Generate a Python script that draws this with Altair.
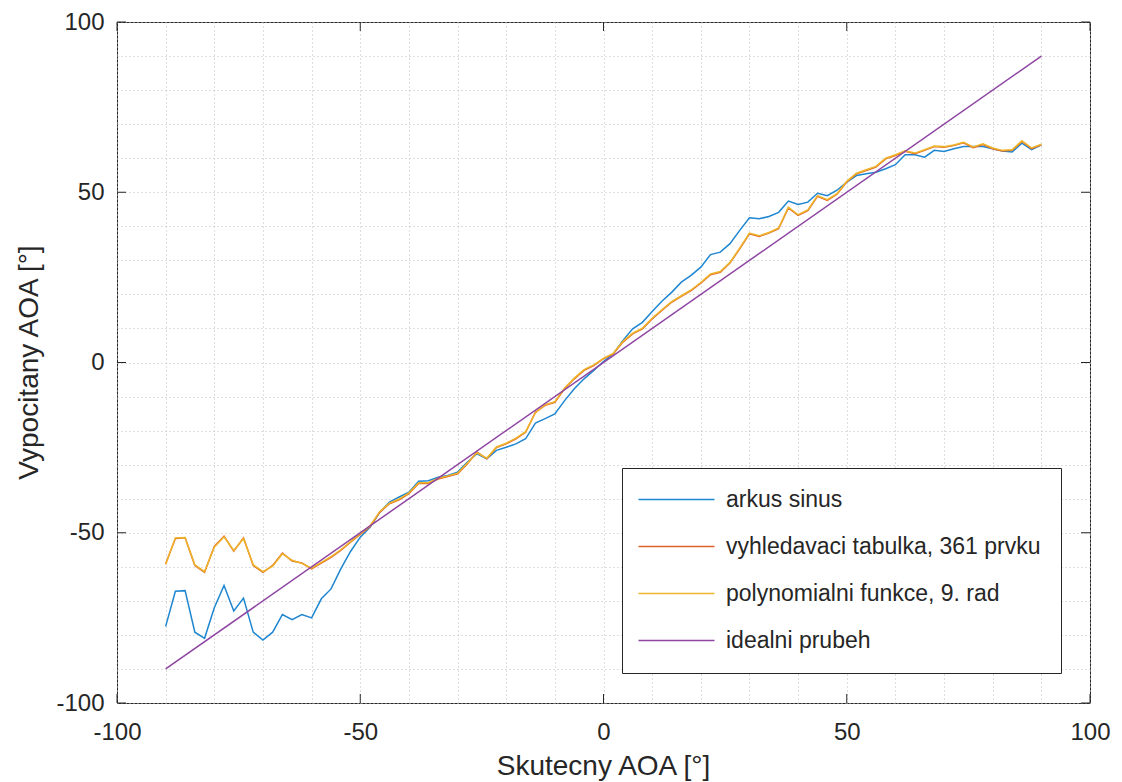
import altair as alt
import pandas as pd

angles = [-90, -88, -86, -84, -82, -80, -78, -76, -74, -72, -70, -68, -66, -64, -62, -60,
          -58, -56, -54, -52, -50, -48, -46, -44, -42, -40, -38, -36, -34, -32, -30, -28,
          -26, -24, -22, -20, -18, -16, -14, -12, -10, -8, -6, -4, -2, 0, 2, 4, 6, 8, 10,
          12, 14, 16, 18, 20, 22, 24, 26, 28, 30, 32, 34, 36, 38, 40, 42, 44, 46, 48, 50,
          52, 54, 56, 58, 60, 62, 64, 66, 68, 70, 72, 74, 76, 78, 80, 82, 84, 86, 88, 90]

arkus_sinus = [-77.5, -67.2, -67.0, -79.2, -81.0, -72.0, -65.5, -73.0, -69.2, -79.2, -81.5,
               -79.2, -74.0, -75.5, -74.0, -75.0, -69.4, -66.5, -60.6, -55.5, -51.3, -48.4,
               -44.0, -41.0, -39.5, -38.1, -34.9, -34.7, -33.7, -33.2, -32.2, -29.3, -26.8,
               -28.3, -25.8, -24.9, -23.9, -22.4, -17.8, -16.5, -15.1, -11.2, -7.7, -4.8,
               -2.3, 0.3, 2.5, 6.5, 9.9, 11.8, 15.0, 18.0, 20.6, 23.6, 25.6, 28.0, 31.7,
               32.4, 34.9, 38.8, 42.5, 42.2, 42.9, 44.1, 47.4, 46.4, 47.1, 49.7, 49.0, 50.6,
               53.0, 54.9, 55.4, 55.9, 56.9, 58.1, 61.0, 61.0, 60.3, 62.3, 62.0, 62.8, 63.4,
               63.4, 63.4, 62.8, 62.1, 61.8, 64.4, 62.5, 63.9]

tabulka = [-59.1, -51.7, -51.5, -59.6, -61.6, -54.0, -51.0, -55.4, -51.5, -59.6, -61.6,
           -59.6, -56.0, -58.3, -58.9, -60.6, -58.9, -57.2, -55.2, -52.8, -50.5, -48.2,
           -44.0, -41.5, -40.3, -38.5, -35.5, -35.5, -34.2, -33.5, -32.7, -29.8, -26.3,
           -28.3, -25.0, -23.9, -22.4, -20.5, -14.6, -12.6, -11.7, -7.7, -4.8, -2.3,
           -0.9, 1.1, 2.5, 6.0, 8.4, 9.9, 12.8, 15.3, 17.7, 19.4, 21.1, 23.3, 25.8,
           26.5, 29.2, 33.4, 37.8, 37.0, 38.0, 39.3, 45.4, 43.2, 44.6, 48.8, 47.6, 49.4,
           53.0, 55.4, 56.4, 57.4, 59.8, 60.8, 62.0, 61.3, 62.3, 63.4, 63.2, 63.7, 64.5,
           63.1, 64.0, 62.8, 62.1, 62.3, 64.9, 62.8, 63.9]

polynom = [-59.3, -51.5, -51.4, -59.4, -61.4, -54.2, -51.2, -55.2, -51.7, -59.4, -61.4,
           -59.8, -56.2, -58.1, -59.0, -60.4, -58.7, -57.0, -55.0, -52.6, -50.3, -48.0,
           -43.8, -41.3, -40.1, -38.3, -35.3, -35.3, -34.0, -33.3, -32.5, -29.6, -26.5,
           -28.1, -24.8, -23.7, -22.2, -20.3, -14.8, -12.4, -11.5, -7.5, -4.6, -2.1,
           -0.7, 1.2, 2.7, 6.2, 8.6, 10.1, 13.0, 15.5, 17.9, 19.6, 21.3, 23.5, 26.0,
           26.7, 29.4, 33.6, 38.0, 37.2, 38.2, 39.5, 45.6, 43.4, 44.8, 49.0, 47.8, 49.6,
           53.2, 55.6, 56.6, 57.6, 60.0, 61.0, 62.2, 61.5, 62.5, 63.6, 63.4, 63.9, 64.7,
           63.3, 64.2, 63.0, 62.3, 62.5, 65.1, 63.0, 64.1]

ideal_x = [-90, 90]
ideal_y = [-90, 90]

series_names = ["arkus sinus", "vyhledavaci tabulka, 361 prvku",
                "polynomialni funkce, 9. rad", "idealni prubeh"]
series_colors = ["#1f86d0", "#df6428", "#efb52a", "#8e45a2"]

grid_values = [-100, -90, -80, -70, -60, -50, -40, -30, -20, -10, 0,
               10, 20, 30, 40, 50, 60, 70, 80, 90, 100]
major_ticks = [-100, -50, 0, 50, 100]

rows = []
for name, ys, xs in [(series_names[0], arkus_sinus, angles),
                     (series_names[1], tabulka, angles),
                     (series_names[2], polynom, angles),
                     (series_names[3], ideal_y, ideal_x)]:
    for i, (xv, yv) in enumerate(zip(xs, ys)):
        rows.append({"series": name, "x": xv, "y": yv, "order": i})
df = pd.DataFrame(rows)
ticks_df = pd.DataFrame({"t": major_ticks})

W, H = 973, 681
FONT = "Liberation Sans"
TXT = "#262626"
GRID = "#bdbdbd"

xscale = alt.Scale(domain=[-100, 100], nice=False, zero=False)
yscale = alt.Scale(domain=[-100, 100], nice=False, zero=False)

label_expr = "datum.value % 50 == 0 ? '' + datum.value : ''"

x_axis = alt.Axis(values=grid_values, labelExpr=label_expr, grid=True, ticks=False,
                  tickSize=0, domain=False, labelFontSize=24, labelFont=FONT,
                  labelColor=TXT, labelPadding=17, title="Skutecny AOA [°]",
                  titleFontSize=28, titleFont=FONT, titleFontWeight="normal",
                  titleColor=TXT, titleX=486, titleY=63, titleBaseline="middle",
                  labelOverlap=False, labelFlush=False,
                  gridColor=GRID, gridDash=[1, 3], gridWidth=1)
y_axis = alt.Axis(values=grid_values, labelExpr=label_expr, grid=True, ticks=False,
                  tickSize=0, domain=False, labelFontSize=24, labelFont=FONT,
                  labelColor=TXT, labelPadding=13, title="Vypocitany AOA [°]",
                  titleFontSize=28, titleFont=FONT, titleFontWeight="normal",
                  titleColor=TXT, titleX=-88, titleY=340, titleAngle=270,
                  titleBaseline="middle", labelOverlap=False, labelFlush=False,
                  gridColor=GRID, gridDash=[1, 3], gridWidth=1)

lines = alt.Chart(df).mark_line(strokeWidth=1.5).encode(
    x=alt.X("x:Q", scale=xscale, axis=x_axis),
    y=alt.Y("y:Q", scale=yscale, axis=y_axis),
    order="order:Q",
    color=alt.Color("series:N", sort=series_names,
                    scale=alt.Scale(domain=series_names, range=series_colors),
                    legend=alt.Legend(orient="none", legendX=505, legendY=446,
                                      title=None, symbolType="M-4.75,0H4.75",
                                      symbolSize=256, symbolStrokeWidth=1.5,
                                      symbolOffset=23,
                                      labelFontSize=23, labelFont=FONT,
                                      labelColor=TXT, rowPadding=23, padding=20,
                                      strokeColor=TXT, fillColor="white",
                                      labelOffset=38, labelLimit=600)),
)

tick_kw = dict(color=TXT, strokeWidth=1)
bottom = alt.Chart(ticks_df).mark_rule(**tick_kw).encode(
    x=alt.X("t:Q", scale=xscale, axis=x_axis), y=alt.value(H), y2=alt.value(H - 9))
top = alt.Chart(ticks_df).mark_rule(**tick_kw).encode(
    x=alt.X("t:Q", scale=xscale, axis=x_axis), y=alt.value(0), y2=alt.value(9))
left = alt.Chart(ticks_df).mark_rule(**tick_kw).encode(
    y=alt.Y("t:Q", scale=yscale, axis=y_axis), x=alt.value(0), x2=alt.value(9))
right = alt.Chart(ticks_df).mark_rule(**tick_kw).encode(
    y=alt.Y("t:Q", scale=yscale, axis=y_axis), x=alt.value(W), x2=alt.value(W - 9))

chart = alt.layer(lines, bottom, top, left, right).properties(
    width=W, height=H,
    autosize=alt.AutoSizeParams(type="none"),
    padding={"left": 109, "top": 14, "right": 24, "bottom": 78},
).configure_view(
    stroke=TXT, strokeWidth=1
)

chart.save("out.html", embed_options={"renderer": "svg", "actions": False})
